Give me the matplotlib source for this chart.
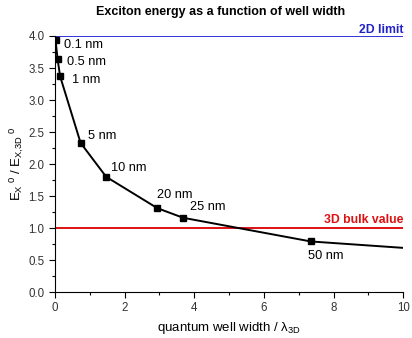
import matplotlib
matplotlib.use('Agg')
import matplotlib.pyplot as plt
from matplotlib.ticker import MultipleLocator

plt.rcParams['font.family'] = ['Liberation Sans', 'DejaVu Sans']
plt.rcParams['mathtext.fontset'] = 'custom'
plt.rcParams['mathtext.rm'] = 'Liberation Sans'
plt.rcParams['mathtext.it'] = 'Liberation Sans'

# well width in units of lambda_3D and normalized exciton energy
width = [0.0, 0.0147, 0.0735, 0.147, 0.735, 1.47, 2.94, 3.68, 7.35, 10.0]
energy = [4.0, 3.94, 3.64, 3.37, 2.33, 1.80, 1.31, 1.16, 0.79, 0.69]
marked = [1, 2, 3, 4, 5, 6, 7, 8]
labels = ['0.1 nm', '0.5 nm', '1 nm', '5 nm', '10 nm', '20 nm', '25 nm', '50 nm']
offsets = [(8, -5), (9, -3), (12, -4), (7, 7), (5, 9), (0, 13), (7, 11), (-3, -15)]

LIMIT_2D = 4.0
BULK_3D = 1.0

fig = plt.figure(figsize=(4.12, 3.38), dpi=100)
ax = fig.add_axes([0.1335, 0.136, 0.845, 0.7575])

ax.axhline(LIMIT_2D, color='#3333dd', lw=1.4, zorder=1)
ax.axhline(BULK_3D, color='#dd1111', lw=1.4, zorder=1)

ax.plot(width, energy, 'k-', lw=1.4, zorder=2)
ax.plot([width[i] for i in marked], [energy[i] for i in marked], 'ks', ms=4.5, zorder=3)

for i, lab, off in zip(marked, labels, offsets):
    ax.annotate(lab, (width[i], energy[i]), xytext=off, textcoords='offset pixels',
                ha='left', va='center', fontsize=9.2)

ax.text(10.0, 4.1, '2D limit', color='#2222cc', fontweight='bold', fontsize=8.8,
        ha='right', va='center')
ax.text(10.0, 1.12, '3D bulk value', color='#dd1111', fontweight='bold', fontsize=8.8,
        ha='right', va='center')

ax.set_xlim(0, 10)
ax.set_ylim(0, 4)
ax.xaxis.set_major_locator(MultipleLocator(2))
ax.xaxis.set_minor_locator(MultipleLocator(1))
ax.yaxis.set_major_locator(MultipleLocator(0.5))
ax.yaxis.set_minor_locator(MultipleLocator(0.25))
ax.yaxis.set_major_formatter(matplotlib.ticker.FormatStrFormatter('%.1f'))
ax.tick_params(which='both', direction='out', labelsize=8.3, width=0.8, labelcolor='#333333')
ax.tick_params(which='major', length=4)
ax.tick_params(which='minor', length=2.5)
ax.spines['top'].set_visible(False)
ax.spines['right'].set_visible(False)

ax.set_xlabel(r'quantum well width / $\lambda_{3D}$', fontsize=9.5)
ax.set_ylabel(r'E$_X$$^{\ 0}$ / E$_{X,\!3D}$$^{\ 0}$', fontsize=9.5, labelpad=2)
fig.text(0.535, 0.965, 'Exciton energy as a function of well width', fontweight='bold',
         fontsize=9, ha='center', va='center')

fig.savefig('out.png', dpi=100)
